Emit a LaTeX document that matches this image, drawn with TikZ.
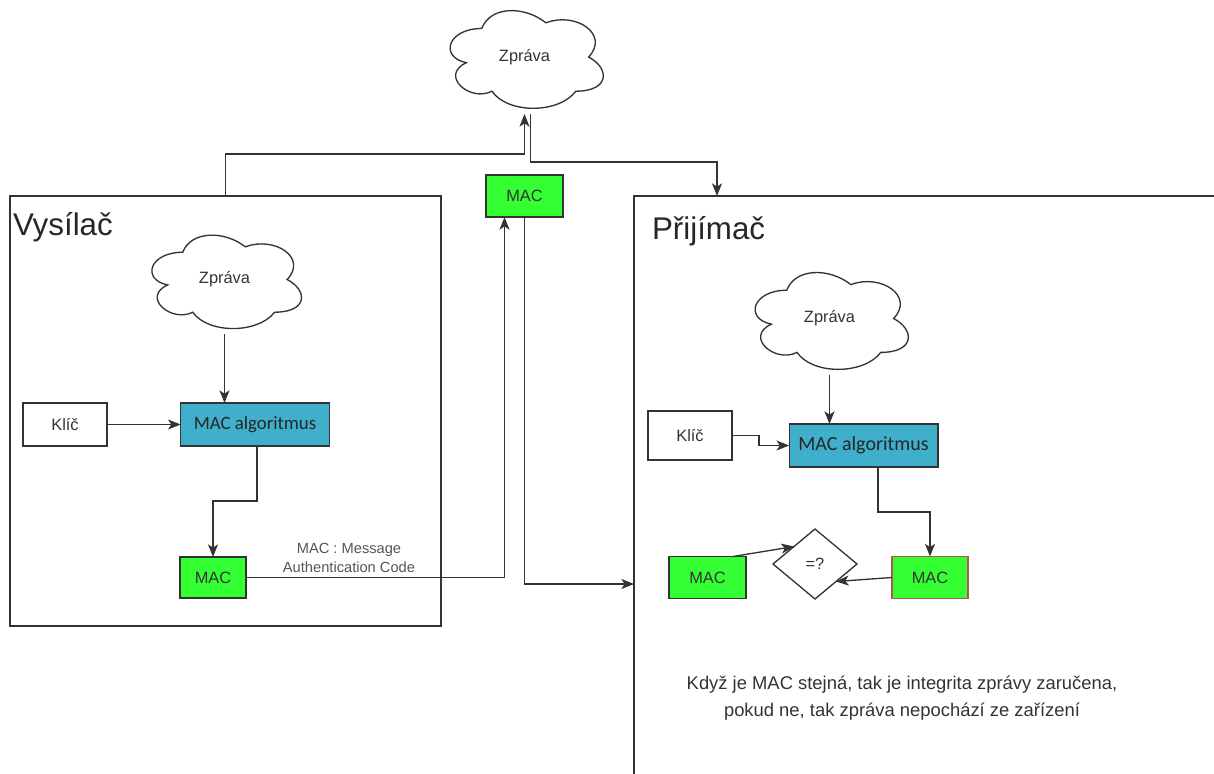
\documentclass[tikz,border=0pt]{standalone}
\usepackage{fontspec}
\setmainfont{Liberation Sans}
\newfontfamily\calib{Carlito}
\usetikzlibrary{arrows.meta,shapes.geometric,calc}

\definecolor{macgreen}{HTML}{33FF33}
\definecolor{algblue}{HTML}{3FAFCB}
\definecolor{linegray}{HTML}{333333}
\definecolor{txtgray}{HTML}{333333}
\definecolor{lblgray}{HTML}{555555}
\definecolor{redline}{HTML}{B85450}

% cloud outline in a w x h box (left, top), plus a named node covering that box
% #1 name, #2 left, #3 top, #4 width, #5 height, #6 text
\newcommand{\cloudnode}[6]{%
  \draw[cloudline]
    ({#2+0.25*#4},{#3+0.25*#5})
    .. controls ({#2+0.05*#4},{#3+0.25*#5}) and ({#2},{#3+0.5*#5}) .. ({#2+0.16*#4},{#3+0.55*#5})
    .. controls ({#2},{#3+0.66*#5}) and ({#2+0.18*#4},{#3+0.9*#5}) .. ({#2+0.31*#4},{#3+0.8*#5})
    .. controls ({#2+0.4*#4},{#3+#5}) and ({#2+0.7*#4},{#3+#5}) .. ({#2+0.8*#4},{#3+0.8*#5})
    .. controls ({#2+#4},{#3+0.8*#5}) and ({#2+#4},{#3+0.6*#5}) .. ({#2+0.875*#4},{#3+0.5*#5})
    .. controls ({#2+#4},{#3+0.3*#5}) and ({#2+0.8*#4},{#3+0.1*#5}) .. ({#2+0.625*#4},{#3+0.2*#5})
    .. controls ({#2+0.5*#4},{#3+0.05*#5}) and ({#2+0.3*#4},{#3+0.05*#5}) .. cycle;
  \node[minimum width={#4*0.75pt}, minimum height={#5*0.75pt}] (#1)
    at ({#2+0.5*#4},{#3+0.5*#5}) {#6};%
}

\begin{document}
\begin{tikzpicture}[x=0.75pt,y=-0.75pt,
  every node/.style={inner sep=0pt, outer sep=0pt, text=txtgray,
                     font=\fontsize{12.3}{14}\selectfont},
  cloudline/.style={draw=linegray, line width=1pt},
  conn/.style={draw=linegray, line width=1pt},
  arr/.style={conn, -{Stealth[length=9.5pt,width=7.5pt,inset=2.5pt]}},
  frame/.style={draw=linegray, line width=1pt, rectangle},
  plainbox/.style={draw=linegray, line width=1pt, rectangle, fill=white},
  algbox/.style={draw=linegray, line width=1pt, rectangle, fill=algblue,
                 minimum width=111.5pt, minimum height=32.25pt, text=black!85},
  macbox/.style={draw=linegray, line width=1pt, rectangle, fill=macgreen,
                 minimum width=57.75pt, minimum height=31.5pt},
  title/.style={anchor=base west, text=black!85, font=\fontsize{23.5}{26}\selectfont}
]
\useasboundingbox (0,0) rectangle (1214,774);
\clip (0,0) rectangle (1214,774);

% containers
\node[frame, minimum width=323.25pt, minimum height=322.5pt] (tx) at (225.5,411) {};
\node[frame, minimum width=499.5pt, minimum height=528pt] (rx) at (967,548) {};
\node[title] (txtitle) at (13,235) {Vysílač};
\node[title] (rxtitle) at (652,239) {Přijímač};

% message clouds
\cloudnode{msgT}{439}{0}{171}{114}{Zpráva}
\cloudnode{msgS}{141}{225}{167}{109}{Zpráva}
\cloudnode{msgR}{744}{262}{171}{113}{Zpráva}

% sender
\node[plainbox, minimum width=63pt, minimum height=32.25pt] (keyS) at (65,424.5) {Klíč};
\node[algbox] (algS) at (255,424.5) {\calib\fontsize{14.1}{16}\selectfont MAC algoritmus};
\node[macbox, minimum width=49.5pt, minimum height=30.75pt] (macS) at (213,577.5) {MAC};

% MAC sent along with the message
\node[macbox] (macT) at (524.5,196) {MAC};

% receiver
\node[plainbox, minimum width=63pt, minimum height=36.75pt] (keyR) at (690,435.5) {Klíč};
\node[algbox] (algR) at (863.5,445.5) {\calib\fontsize{15}{17}\selectfont MAC algoritmus};
\node[macbox] (macL) at (707.5,577.5) {MAC};
\node[macbox, draw=redline, minimum width=57pt] (macR) at (930,577.5) {MAC};
\node[diamond, draw=linegray, line width=1pt, fill=white,
      minimum width=63pt, minimum height=52.5pt] (cmp) at (815,564) {=?};

% labels
\node[align=center, text=lblgray, font=\fontsize{11}{14.25}\selectfont] (maclbl)
  at (349,557.5) {MAC : Message\\Authentication Code};
\node[align=center, font=\fontsize{13.8}{20.25}\selectfont] (note)
  at (902,698.5) {Když je MAC stejná, tak je integrita zprávy zaručena,\\
                  pokud ne, tak zpráva nepochází ze zařízení};

% sender flow
\draw[arr] (msgS.south) -- (msgS.south |- algS.north);
\draw[arr] (keyS.east) -- (algS.west);
\draw[arr] ($(algS.south)+(2,0)$) -- ++(0,55) -| (macS.north);

% transmission
\draw[arr] (tx.north) -- ++(0,-42) -| (msgT.south);
\draw[arr] ($(msgT.south)+(6,0)$) -- ++(0,48) -| ($(rx.north west)+(83,0)$);
\draw[arr] (macS.east) -| ($(macT.south)+(-20,0)$);
\draw[arr] (macT.south) |- ($(rx.north west)+(0,388)$);

% receiver flow
\draw[arr] (msgR.south) -- (msgR.south |- algR.north);
\draw[arr] (keyR.east) -- ++(27,0) |- (algR.west);
\draw[arr] ($(algR.south)+(14.5,0)$) -- ++(0,45) -| (macR.north);
\draw[arr] ($(macL.north east)+(-13,0)$) -- (cmp.north west);
\draw[arr] (macR.west) -- (cmp.south east);
\end{tikzpicture}
\end{document}
